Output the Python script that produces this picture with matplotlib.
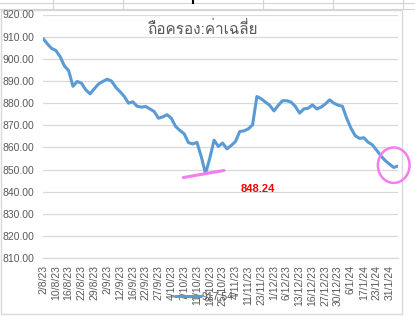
import matplotlib
matplotlib.use("Agg")
import matplotlib.pyplot as plt
from matplotlib import font_manager
from matplotlib.lines import Line2D
from matplotlib.patches import Rectangle, Ellipse

# ---------------- data ----------------
title_text = "ถือครอง:ค่าเฉลี่ย"
legend_label = "917.54"
values = [
    909.2, 906.8, 904.7, 903.8, 901.0, 896.8, 894.7, 887.6, 889.8, 889.0,
    886.0, 884.2, 886.5, 888.7, 889.8, 890.8, 890.0, 887.2, 885.2, 883.0,
    880.0, 880.6, 878.6, 878.2, 878.5, 877.4, 876.2, 873.2, 873.8, 874.8,
    873.2, 869.5, 867.7, 866.2, 862.2, 861.6, 862.3, 855.9, 848.24, 855.2,
    863.3, 860.5, 862.0, 859.4, 860.9, 862.7, 867.2, 867.5, 868.4, 870.2,
    883.0, 882.0, 880.5, 879.0, 876.5, 879.0, 881.1, 881.1, 880.5, 878.5,
    875.5, 877.4, 877.7, 879.2, 877.4, 878.2, 879.6, 881.5, 880.0, 879.1,
    878.6, 873.2, 868.7, 865.3, 864.1, 864.4, 862.4, 861.2, 858.8, 856.2,
    854.1, 852.5, 851.0, 851.6,
]
tick_labels = [
    "2/8/23", "10/8/23", "16/8/23", "22/8/23", "29/8/23", "2/9/23", "12/9/23",
    "16/9/23", "22/9/23", "27/9/23", "4/10/23", "7/10/23", "11/10/23", "18/10/23",
    "25/10/23", "4/11/23", "11/11/23", "23/11/23", "1/12/23", "6/12/23",
    "13/12/23", "16/12/23", "27/12/23", "30/12/23", "6/1/24", "17/1/24",
    "23/1/24", "31/1/24",
]
y_ticks = [810, 820, 830, 840, 850, 860, 870, 880, 890, 900, 910, 920]
min_label = "848.24"

# ---------------- fonts ----------------
def find_thai_font():
    try:
        from fontTools.ttLib import TTFont
    except Exception:
        return None
    for f in font_manager.fontManager.ttflist:
        try:
            tt = TTFont(f.fname, fontNumber=0, lazy=True)
            cmap = tt.getBestCmap()
            if cmap and 0x0E16 in cmap and 0x0E48 in cmap:
                return f.name
        except Exception:
            continue
    return None

thai_font = find_thai_font()
base_font = "Liberation Sans"
title_family = [thai_font, base_font] if thai_font else [base_font, "DejaVu Sans"]
plt.rcParams["font.family"] = [base_font, "DejaVu Sans"]

W, H = 415, 316
fig = plt.figure(figsize=(W / 100, H / 100), dpi=100)
fig.patch.set_facecolor("white")

def fx(px):
    return px / W

def fy(py):
    return 1 - py / H

# spreadsheet grid strip on top
for yy in (3, 9):
    fig.add_artist(Line2D([0, 1], [fy(yy), fy(yy)], color="#d4d4d4", lw=0.8))
for xx in (53, 123, 263, 333, 403):
    fig.add_artist(Line2D([fx(xx), fx(xx)], [fy(0), fy(9)], color="#d4d4d4", lw=0.8))
fig.add_artist(Line2D([fx(193), fx(193)], [fy(0), fy(3)], color="black", lw=1.5))

# chart border
fig.add_artist(Rectangle((fx(1), fy(313.5)), fx(402) - fx(1), fy(10) - fy(313.5),
                         fill=True, facecolor="white", edgecolor="#d9d9d9", lw=1.0,
                         transform=fig.transFigure, zorder=0))

left, right = 43, 398
top, bottom = 14.5, 258.3
ax = fig.add_axes([fx(left), fy(bottom), fx(right) - fx(left), fy(top) - fy(bottom)])
ax.set_facecolor("none")

x = list(range(len(values)))
ax.plot(x, values, color="#5B9BD5", lw=2.2, solid_joinstyle="round",
        solid_capstyle="round", zorder=3, label=legend_label)

ax.set_xlim(0, len(values) - 1)
ax.set_ylim(810, 920)
ax.set_yticks(y_ticks)
ax.set_yticklabels([f"{v:.2f}" for v in y_ticks], fontsize=7.5, color="#595959")
ax.set_xticks(list(range(0, len(values), 3))[:len(tick_labels)])
ax.set_xticklabels(tick_labels, rotation=90, fontsize=7.5, color="#595959")
ax.tick_params(axis="both", length=0)
ax.tick_params(axis="y", pad=6)
ax.tick_params(axis="x", pad=5)
ax.grid(axis="y", color="#d9d9d9", lw=0.9)
for s in ("left", "right", "top"):
    ax.spines[s].set_visible(False)
ax.spines["bottom"].set_color("#d9d9d9")
ax.spines["bottom"].set_linewidth(0.9)

# title
fig.text(fx(202), fy(29), title_text, ha="center", va="center", fontsize=11,
         color="#595959", family=title_family)

# legend
leg = fig.legend(loc="center", bbox_to_anchor=(fx(204), fy(297)), frameon=False,
                 fontsize=7.5, handlelength=2.5, handletextpad=0.1, labelcolor="#595959")

# pink hand annotations
pink = "#F47CF0"
imin = values.index(min(values))
ax.plot([imin - 5.2, imin + 4.3], [min(values) - 1.8, min(values) + 1.4], color=pink,
        lw=2.2, solid_capstyle="round", clip_on=False, zorder=4)
ax.add_patch(Ellipse((len(values) - 2, 852.0), 7.4, 16.0, angle=0, fill=False,
                     edgecolor=pink, lw=1.8, clip_on=False, zorder=4))
ax.text(imin + 12.3, 841.3, min_label, color="red", fontsize=8, fontweight="bold",
        ha="center", va="center")

fig.savefig("out.png", dpi=100)
